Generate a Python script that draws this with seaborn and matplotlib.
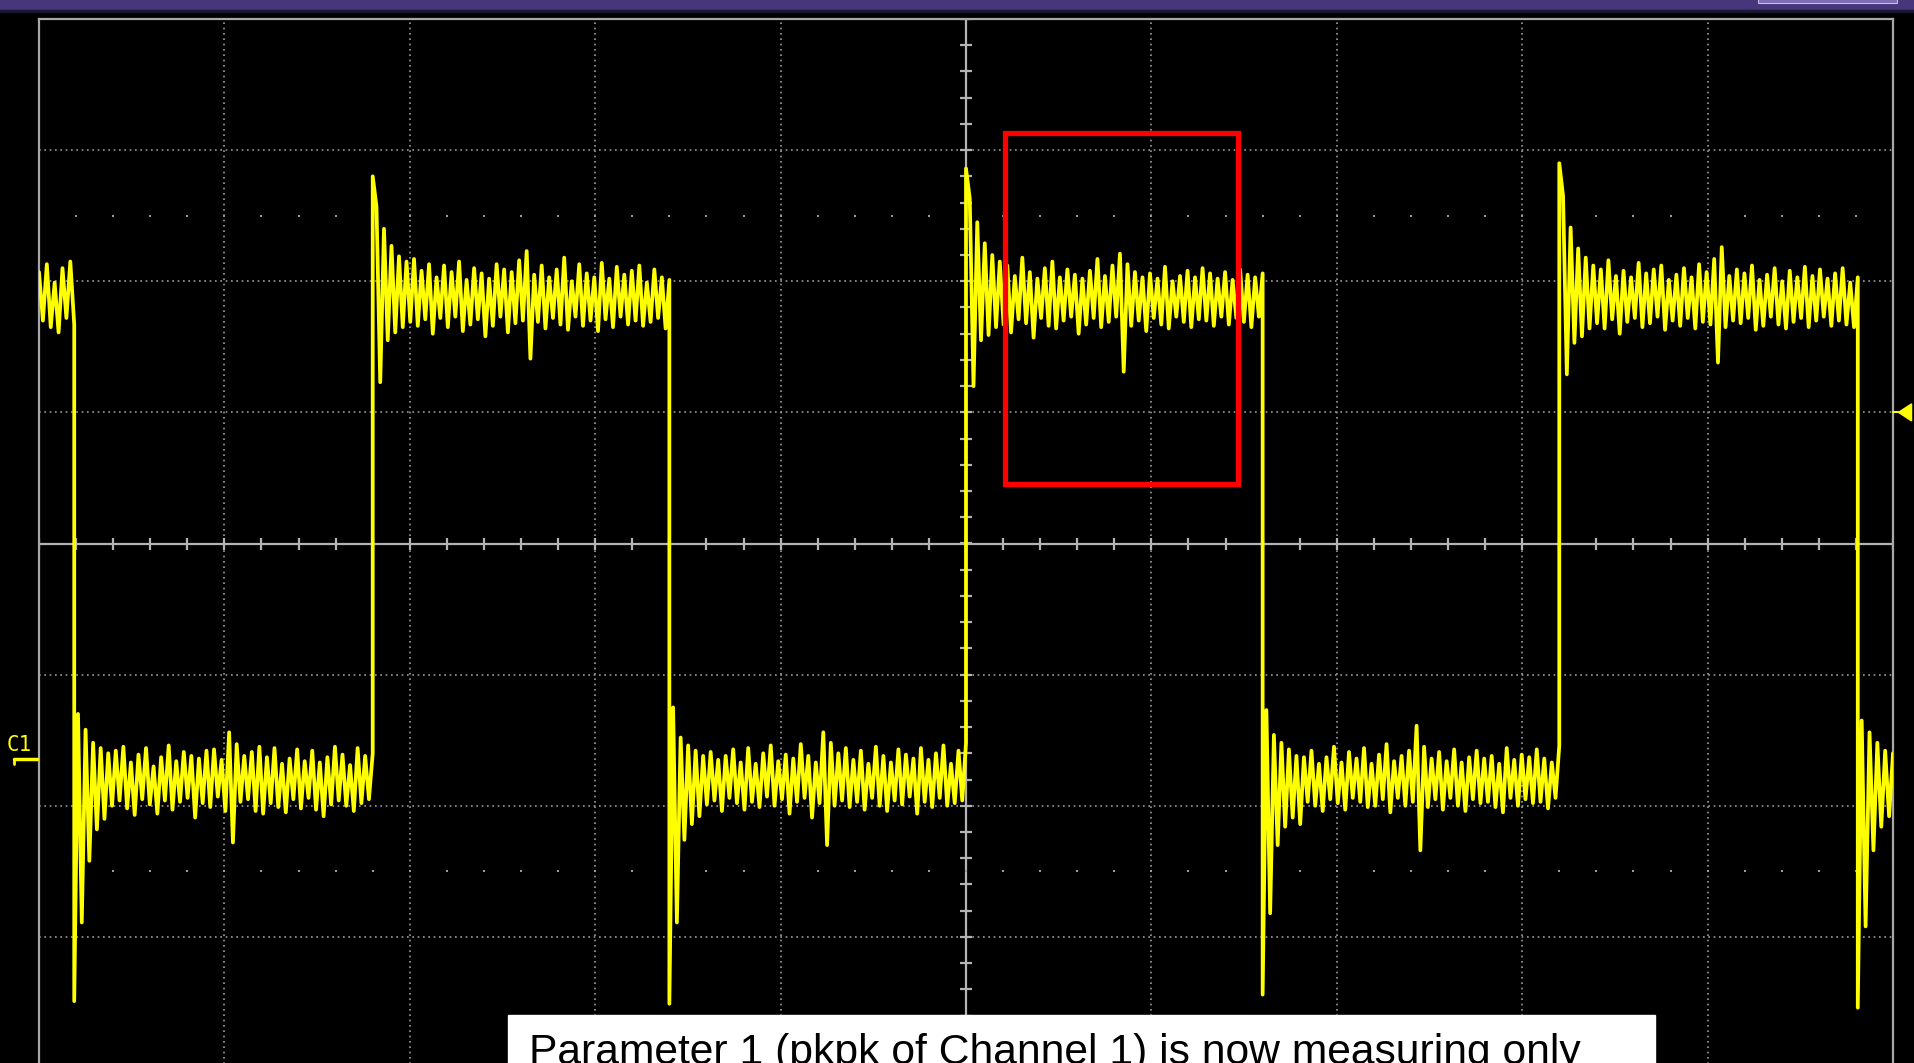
import numpy as np
import pandas as pd
import matplotlib.pyplot as plt
import seaborn as sns
from matplotlib.patches import Rectangle, Polygon
from matplotlib.lines import Line2D

sns.set_theme(style="dark")
plt.rcParams["font.family"] = ["Liberation Sans", "DejaVu Sans"]

# 1. 波形数据（单位：格）------------------------------------------------
seg_bounds = [-5.0, -4.81, -3.20, -1.60, 0.0, 1.60, 3.20, 4.81, 5.0]
high_level = 1.85
low_level = -1.82

# 每段噪声（百分之一格），按采样顺序
high_0 = [22, -15, 28, -20, 14, -24, 25, -13, 30, -18]
low_1 = [-167, 52, -107, 40, -60, 30, -36, 26, -28, 22,
         -18, 24, -14, 27, -20, 15, -25, 21, -13, 26,
         -17, 12, -24, 19, -14, 28, -21, 16, -15, 23,
         -12, 20, -27, 18, -16, 24, -19, 25, -11, 17,
         -22, 38, -46, 29, -15, 20, -13, 23, -22, 27,
         -24, 19, -16, 26, -19, 14, -23, 18, -13, 25,
         -20, 16, -12, 24, -21, 15, -26, 19, -17, 27,
         -14, 21, -18, 13, -22, 26, -16, 20, -13, 22]
high_2 = [95, 72, -62, 55, -30, 42, -24, 34, -20, 30,
          -16, 32, -19, 23, -14, 28, -25, 18, -13, 27,
          -20, 22, -12, 30, -23, 16, -18, 25, -14, 21,
          -27, 17, -19, 28, -12, 24, -24, 22, -17, 31,
          -15, 38, -44, 20, -16, 27, -21, 18, -13, 24,
          -18, 33, -22, 15, -12, 28, -19, 21, -15, 18,
          -23, 29, -14, 17, -20, 26, -12, 20, -18, 23,
          -15, 27, -19, 14, -16, 24, -13, 18, -21, 16]
low_3 = [-169, 57, -107, 34, -44, 28, -32, 24, -26, 20,
         -17, 23, -14, 17, -22, 20, -12, 25, -16, 15,
         -21, 26, -15, 14, -19, 22, -11, 28, -18, 16,
         -13, 21, -24, 18, -15, 29, -12, 20, -27, 15,
         -16, 38, -48, 30, -18, 22, -14, 26, -19, 17,
         -15, 24, -21, 14, -12, 27, -18, 20, -22, 15,
         -14, 25, -17, 21, -11, 18, -24, 26, -15, 17,
         -19, 22, -12, 28, -18, 14, -16, 24, -14, 30]
high_4 = [101, 78, -65, 60, -30, 44, -26, 35, -20, 30,
          -18, 27, -24, 19, -14, 33, -17, 22, -28, 17,
          -13, 25, -19, 30, -21, 18, -15, 24, -12, 20,
          -25, 17, -18, 23, -13, 32, -20, 19, -16, 27,
          -12, 36, -54, 28, -19, 22, -15, 18, -23, 21,
          -13, 17, -18, 26, -21, 15, -12, 19, -16, 23,
          -20, 18, -14, 25, -15, 21, -19, 17, -12, 22,
          -18, 16, -13, 24, -16, 20, -20, 18, -12, 21]
low_5 = [-162, 55, -100, 36, -48, 30, -34, 25, -27, 20,
         -32, 19, -15, 24, -18, 14, -22, 19, -13, 27,
         -16, 15, -21, 23, -12, 18, -15, 26, -19, 14,
         -18, 21, -13, 29, -23, 16, -12, 20, -18, 24,
         -15, 43, -52, 27, -19, 18, -13, 23, -21, 16,
         -12, 25, -18, 15, -22, 19, -13, 24, -16, 18,
         -15, 20, -19, 14, -23, 26, -12, 17, -18, 21,
         -13, 19, -16, 25, -15, 18, -20, 15, -12, 28]
high_6 = [105, 80, -56, 56, -32, 40, -27, 33, -21, 27,
          -17, 24, -21, 31, -14, 19, -25, 23, -16, 18,
          -13, 29, -20, 21, -17, 24, -12, 27, -22, 16,
          -15, 20, -19, 25, -13, 18, -21, 28, -16, 22,
          -18, 32, -47, 41, -20, 19, -15, 24, -17, 21,
          -13, 27, -22, 16, -19, 20, -12, 25, -18, 15,
          -21, 23, -16, 18, -13, 26, -20, 19, -15, 24,
          -12, 17, -19, 21, -15, 25, -18, 14, -20, 18]
low_7 = [-172, 47, -110, 38, -52, 30, -34, 24, -26, 22]

segments = [high_0, low_1, high_2, low_3, high_4, low_5, high_6, low_7]

# 注释框（红框，单位：格）与文字
box_x = [0.21, 1.467]
box_y = [0.454, 3.13]
note = "Parameter 1 (pkpk of Channel 1) is now measuring only"

# 2. 组装数据 ----------------------------------------------------------
rows = []
for k, seg in enumerate(segments):
    lvl = high_level if k % 2 == 0 else low_level
    ts = np.linspace(seg_bounds[k], seg_bounds[k + 1], len(seg))
    for t, n in zip(ts, seg):
        rows.append((t, lvl + n / 100.0))
df = pd.DataFrame(rows, columns=["t", "v"])

# 3. 画图 --------------------------------------------------------------
W, H = 1915, 1063
fig = plt.figure(figsize=(W / 100, H / 100), dpi=100, facecolor="black")


def fx(x):
    return x / W


def fy(y):
    return 1 - y / H


ax = fig.add_axes([fx(39), fy(1068), 1854 / W, 1049 / H])
ax.set_facecolor("black")
ax.set_xlim(-5, 5)
ax.set_ylim(-4, 4)
ax.set_xticks([])
ax.set_yticks([])
for s in ax.spines.values():
    s.set_color("#a8a8a8")
    s.set_linewidth(1.6)

grid_c = "#9a9a9a"
for gx in range(-4, 5):
    if gx != 0:
        ax.axvline(gx, color=grid_c, lw=1.2, ls=(0, (1, 2.2)), zorder=1)
for gy in range(-3, 4):
    if gy != 0:
        ax.axhline(gy, color=grid_c, lw=1.2, ls=(0, (1, 2.2)), zorder=1)
ax.axhline(0, color="#b4b4b4", lw=1.6, zorder=1)
ax.axvline(0, color="#b4b4b4", lw=1.6, zorder=1)

minor_x = np.arange(-5, 5.001, 0.2)
minor_y = np.arange(-4, 4.001, 0.2)
ax.plot(minor_x, np.zeros_like(minor_x), ls="none", marker="|", ms=8, mew=1.6,
        color="#b4b4b4", zorder=1)
ax.plot(np.zeros_like(minor_y), minor_y, ls="none", marker="_", ms=8, mew=1.6,
        color="#b4b4b4", zorder=1)
for ry in (-2.5, 2.5):
    ax.plot(minor_x[1:-1], np.full(len(minor_x) - 2, ry), ls="none", marker="s",
            ms=1.6, mew=0, color=grid_c, zorder=1)

sns.lineplot(data=df, x="t", y="v", estimator=None, sort=False, color="#ffff00",
             lw=2.7, ax=ax, zorder=3)
ax.set_xlabel("")
ax.set_ylabel("")

ax.add_patch(Rectangle((box_x[0], box_y[0]), box_x[1] - box_x[0], box_y[1] - box_y[0],
                       fill=False, ec="#ff0000", lw=3.8, zorder=4))

# 触发电平标记
ax.plot([5.0, 5.05], [1.0, 1.0], color="#ffff00", lw=1.5, clip_on=False, zorder=4)
ax.add_patch(Polygon([(5.03, 1.0), (5.10, 1.065), (5.10, 0.935)], closed=True,
                     color="#ffff00", clip_on=False, zorder=4))

# C1 标记
fig.text(fx(7), fy(751), "C1", color="#ffff00", fontsize=15,
         family="DejaVu Sans Mono", va="baseline", ha="left")
fig.add_artist(Line2D([fx(14), fx(37)], [fy(759), fy(759)], color="#ffff00", lw=2.5))
fig.add_artist(Line2D([fx(14.5), fx(14.5)], [fy(759), fy(764)], color="#ffff00", lw=2))

# 顶部紫色标题栏
fig.add_artist(Rectangle((0, fy(10)), 1, 10 / H, transform=fig.transFigure,
                         color="#46367a", zorder=5))
fig.add_artist(Rectangle((0, fy(11.5)), 1, 1.5 / H, transform=fig.transFigure,
                         color="#1c1632", zorder=5))
fig.add_artist(Rectangle((fx(1758), fy(3)), 139 / W, 4 / H, transform=fig.transFigure,
                         fc="#7a6ab2", ec="#c8c0e8", lw=0.8, zorder=6))

# 白色说明框
fig.add_artist(Rectangle((fx(508), fy(1070)), (1655 - 508) / W, 55 / H,
                         transform=fig.transFigure, color="white", zorder=7))
txt = fig.text(fx(529), fy(1064), note, color="black", fontsize=30,
               va="baseline", ha="left", zorder=8)
fig.canvas.draw()
w = txt.get_window_extent().width
txt.set_fontsize(30 * 1052 / w)

fig.savefig("out.png", dpi=100, facecolor="black")
